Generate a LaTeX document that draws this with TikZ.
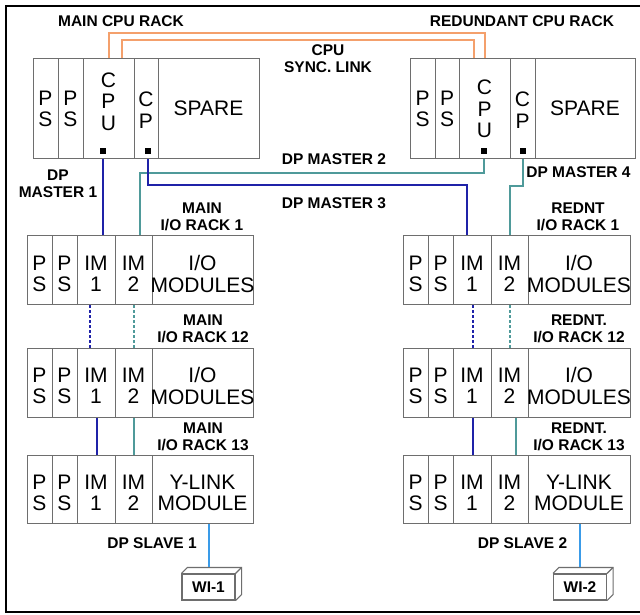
\documentclass[tikz,border=0pt]{standalone}
\usepackage{fontspec}
\setmainfont{Liberation Sans}
\definecolor{dpblue}{HTML}{1F22A8}
\definecolor{dpteal}{HTML}{4F9A9A}
\definecolor{syncor}{HTML}{F4A06C}
\definecolor{slaveblue}{HTML}{3A9BE8}
\definecolor{rackgray}{HTML}{6E6E6E}
\tikzset{
  slotbox/.style={draw=rackgray, line width=1.1pt, rectangle, inner sep=0pt, fill=white},
  racktext/.style={align=center, inner sep=0pt, font=\fontsize{21}{21.5}\selectfont},
  lbl/.style={align=center, inner sep=0pt, font=\bfseries\fontsize{15.5}{17}\selectfont},
  port/.style={fill=black, rectangle, minimum size=6pt, inner sep=0pt},
  bluelink/.style={draw=dpblue, line width=2pt},
  teallink/.style={draw=dpteal, line width=2pt},
  synclink/.style={draw=syncor, line width=2pt},
  slavelink/.style={draw=slaveblue, line width=2pt},
  dashlink/.style={dash pattern=on 3pt off 2pt},
  wibox/.style={draw=rackgray, line width=1.1pt, rectangle, inner sep=0pt, minimum width=53pt, minimum height=26pt, font=\bfseries\fontsize{15.5}{17}\selectfont},
}
\newcommand\mkslot[7]{%
  \node[slotbox, minimum width={((#3)-(#2))*1pt}, minimum height={((#5)-(#4))*1pt}, anchor=north west] (#1) at ({#2},{#4}) {};
  \node[racktext] (#1-t) at ({((#2)+(#3))/2},{#7}) {#6};
}
\newcommand\mkiorack[7]{% prefix, x0, x1, y0, y1, ytext, last text
  \mkslot{#1-ps1}{#2}{#2+25}{#4}{#5}{P\\S}{#6}
  \mkslot{#1-ps2}{#2+25}{#2+50}{#4}{#5}{P\\S}{#6}
  \mkslot{#1-im1}{#2+50}{#2+88}{#4}{#5}{IM\\1}{#6}
  \mkslot{#1-im2}{#2+88}{#2+125}{#4}{#5}{IM\\2}{#6}
  \mkslot{#1-io}{#2+125}{#3}{#4}{#5}{#7}{#6}
}
\begin{document}
\begin{tikzpicture}[x=1pt,y=-1pt]
\useasboundingbox (0,0) rectangle (640,615);
\fill[white] (0,0) rectangle (640,615);
\begin{scope}
\clip (0,0) rectangle (640,615);
\draw[line width=2.6pt] (660,6) -- (6,6) -- (6,612) -- (660,612);
\end{scope}

% CPU racks
\mkslot{mps1}{33}{58}{58}{158}{P\\S}{109}
\mkslot{mps2}{58}{83}{58}{158}{P\\S}{109}
\mkslot{mcpu}{83}{134}{58}{158}{C\\P\\U}{101.5}
\mkslot{mcp}{134}{158}{58}{158}{C\\P}{110}
\mkslot{msp}{158}{259}{58}{158}{SPARE}{108}

\mkslot{rps1}{410}{435}{58}{158}{P\\S}{109}
\mkslot{rps2}{435}{459}{58}{158}{P\\S}{109}
\mkslot{rcpu}{459}{510}{58}{158}{C\\P\\U}{109}
\mkslot{rcp}{510}{535}{58}{158}{C\\P}{110}
\mkslot{rsp}{535}{635}{58}{158}{SPARE}{108}

\node[port] (mcpu-p) at (103,151) {};
\node[port] (mcp-p) at (148,151) {};
\node[port] (rcpu-p) at (484,151) {};
\node[port] (rcp-p) at (523,151) {};

% I/O racks
\mkiorack{ma}{27}{253}{235}{304}{274}{I/O\\MODULES}
\mkiorack{mb}{27}{253}{348}{417}{386}{I/O\\MODULES}
\mkiorack{mc}{27}{253}{455}{523}{493}{Y-LINK\\MODULE}
\mkiorack{ra}{403}{630}{235}{304}{274}{I/O\\MODULES}
\mkiorack{rb}{403}{630}{348}{417}{386}{I/O\\MODULES}
\mkiorack{rc}{403}{630}{455}{523}{493}{Y-LINK\\MODULE}

% WI boxes
\node[wibox] (wi1) at (208.5,587) {WI-1};
\node[wibox] (wi2) at (580,587) {WI-2};
\foreach \w in {wi1,wi2}{
  \draw[rackgray, line width=1.1pt] (\w.north west) -- ++(6,-6) -- ([shift={(6pt,6pt)}]\w.north east) -- ([shift={(6pt,6pt)}]\w.south east) -- (\w.south east);
  \draw[rackgray, line width=1.1pt] (\w.north east) -- ++(6,-6);
}

% CPU sync link
\draw[synclink] (mcpu.north) -- ++(0,-25) -| (rcpu.north);
\draw[synclink] ([xshift=12.5pt]mcpu.north) -- ++(0,-18) -| ([xshift=-11.5pt]rcpu.north);

% DP masters
\draw[bluelink] (mcpu-p |- mcpu.south) -- (mcpu-p |- ma-im1.north);
\draw[teallink] (rcpu-p |- rcpu.south) -- ++(0,14) -| ([xshift=5.5pt]ma-im2.north);
\draw[bluelink] (mcp-p |- mcp.south) -- ++(0,26) -| ([xshift=-6pt]ra-im1.north);
\draw[teallink] (rcp-p |- rcp.south) -- ++(0,27) -| (ra-im2.north);

% rack to rack
\draw[bluelink, dashlink] ([xshift=-7pt]ma-im1.south) -- ([xshift=-7pt]mb-im1.north);
\draw[teallink, dashlink] (ma-im2.south) -- (mb-im2.north);
\draw[bluelink] (mb-im1.south) -- (mc-im1.north);
\draw[teallink] (mb-im2.south) -- (mc-im2.north);
\draw[bluelink, dashlink] (ra-im1.south) -- (rb-im1.north);
\draw[teallink, dashlink] (ra-im2.south) -- (rb-im2.north);
\draw[bluelink] (rb-im1.south) -- (rc-im1.north);
\draw[teallink] ([xshift=6pt]rb-im2.south) -- ([xshift=6pt]rc-im2.north);

% DP slaves
\draw[slavelink] (wi1.north |- mc-io.south) -- ([yshift=6pt]wi1.north);
\draw[slavelink] (wi2.north |- rc-io.south) -- ([yshift=6pt]wi2.north);

% labels
\node[lbl] (l-mcpu) at (121,21) {MAIN CPU RACK};
\node[lbl] (l-rcpu) at (522,21) {REDUNDANT CPU RACK};
\node[lbl] (l-sync) at (328,58.5) {CPU\\SYNC. LINK};
\node[lbl] (l-dp1) at (58,184) {DP\\MASTER 1};
\node[lbl] (l-dp2) at (334,159) {DP MASTER 2};
\node[lbl] (l-dp3) at (334,203) {DP MASTER 3};
\node[lbl] (l-dp4) at (578.5,172) {DP MASTER 4};
\node[lbl] (l-ma) at (202,216.5) {MAIN\\I/O RACK 1};
\node[lbl] (l-ra) at (578,216.5) {REDNT\\I/O RACK 1};
\node[lbl] (l-mb) at (203,328.5) {MAIN\\I/O RACK 12};
\node[lbl] (l-rb) at (579,328.5) {REDNT.\\I/O RACK 12};
\node[lbl] (l-mc) at (203,436.5) {MAIN\\I/O RACK 13};
\node[lbl] (l-rc) at (579,436.5) {REDNT.\\I/O RACK 13};
\node[lbl] (l-s1) at (152,543) {DP SLAVE 1};
\node[lbl] (l-s2) at (522.5,543) {DP SLAVE 2};
\end{tikzpicture}
\end{document}
